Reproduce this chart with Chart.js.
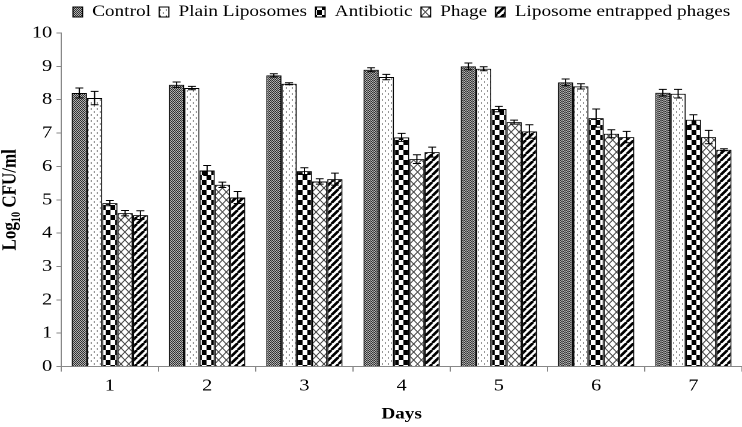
<!DOCTYPE html>
<html><head><meta charset="utf-8">
<script src="https://cdn.jsdelivr.net/npm/chart.js@4.4.0/dist/chart.umd.min.js"></script>
<style>html,body{margin:0;padding:0;background:#fff;overflow:hidden}
#c{display:block}</style>
</head><body>
<canvas id="c" width="618" height="427" style="width:742px;height:427px"></canvas>
<script>
// ---- data ----
const days = ['1', '2', '3', '4', '5', '6', '7'];
const seriesNames = ['Control', 'Plain Liposomes', 'Antibiotic', 'Phage', 'Liposome entrapped phages'];
const control    = [8.20, 8.45, 8.73, 8.90, 9.00, 8.52, 8.21];
const plain      = [8.05, 8.35, 8.48, 8.68, 8.93, 8.40, 8.18];
const antibiotic = [4.90, 5.88, 5.86, 6.87, 7.72, 7.45, 7.40];
const phage      = [4.60, 5.45, 5.55, 6.22, 7.33, 6.98, 6.88];
const lep        = [4.54, 5.07, 5.62, 6.43, 7.05, 6.88, 6.50];
const controlErr    = [0.15, 0.08, 0.05, 0.06, 0.10, 0.10, 0.10];
const plainErr      = [0.20, 0.05, 0.03, 0.08, 0.06, 0.08, 0.13];
const antibioticErr = [0.08, 0.15, 0.10, 0.12, 0.08, 0.27, 0.15];
const phageErr      = [0.08, 0.08, 0.08, 0.13, 0.06, 0.12, 0.20];
const lepErr        = [0.13, 0.18, 0.18, 0.15, 0.20, 0.17, 0.03];
const yTicks = [0, 1, 2, 3, 4, 5, 6, 7, 8, 9, 10];

// ---- patterns ----
const canvas = document.getElementById('c');
const mainCtx = canvas.getContext('2d');
function makePattern(w, h, draw, S) {
  S = S || 4;
  const c = document.createElement('canvas');
  c.width = Math.round(w * S); c.height = Math.round(h * S);
  const g = c.getContext('2d');
  g.scale(S, S);
  draw(g, w, h);
  const p = mainCtx.createPattern(c, 'repeat');
  p.setTransform(new DOMMatrix().scale(1 / S));
  return p;
}
// cells of 1 displayed pixel (1/1.2 user unit wide, 1 user unit tall)
const patControl = makePattern(5 / 3, 2, (g, w, h) => {
  g.fillStyle = '#b4b4b4'; g.fillRect(0, 0, w, h);
  g.fillStyle = '#2e2e2e'; g.fillRect(0, 0, w / 2, 1); g.fillRect(w / 2, 1, w / 2, 1);
}, 6);
const patPlain = makePattern(5, 6, (g) => {
  g.fillStyle = '#fff'; g.fillRect(0, 0, 5, 6);
  g.fillStyle = '#333'; g.fillRect(0.5, 0.5, 1, 1); g.fillRect(3, 3.5, 1, 1);
});
const patAnti = makePattern(8, 10, (g) => {
  g.fillStyle = '#fff'; g.fillRect(0, 0, 8, 10);
  g.fillStyle = '#000'; g.fillRect(0, 0, 4, 5); g.fillRect(4, 5, 4, 5);
});
const patPhage = makePattern(6.5, 8, (g, w, h) => {
  g.fillStyle = '#fff'; g.fillRect(0, 0, w, h);
  g.strokeStyle = '#444'; g.lineWidth = 0.9;
  g.beginPath();
  g.moveTo(0, 0); g.lineTo(w, h);
  g.moveTo(w, 0); g.lineTo(0, h);
  g.stroke();
});
const patLep = makePattern(6, 7, (g, w, h) => {
  g.fillStyle = '#fff'; g.fillRect(0, 0, w, h);
  g.strokeStyle = '#000'; g.lineWidth = 2.4;
  g.beginPath();
  for (let k = -1; k <= 1; k++) { g.moveTo(k * w, h); g.lineTo(k * w + w, 0); }
  g.stroke();
});

const values = [control, plain, antibiotic, phage, lep];
const errors = [controlErr, plainErr, antibioticErr, phageErr, lepErr];
const patterns = [patControl, patPlain, patAnti, patPhage, patLep];

const FONT = "'Liberation Serif', 'Times New Roman', serif";

const errorBars = {
  id: 'errorBars',
  afterDatasetsDraw(chart) {
    const ctx = chart.ctx, y = chart.scales.y;
    ctx.save();
    ctx.strokeStyle = '#000'; ctx.lineWidth = 1;
    chart.data.datasets.forEach((ds, i) => {
      const meta = chart.getDatasetMeta(i);
      meta.data.forEach((bar, j) => {
        const v = ds.data[j], e = errors[i][j];
        const yt = y.getPixelForValue(v + e), yb = y.getPixelForValue(v - e);
        const x = bar.x, hw = 3.3;
        ctx.beginPath();
        ctx.moveTo(x, yt); ctx.lineTo(x, yb);
        ctx.moveTo(x - hw, yt); ctx.lineTo(x + hw, yt);
        ctx.moveTo(x - hw, yb); ctx.lineTo(x + hw, yb);
        ctx.stroke();
      });
    });
    ctx.restore();
  }
};
const legendShift = {
  id: 'legendShift',
  afterLayout(chart) {
    const lg = chart.legend, ca = chart.chartArea;
    const dx = (ca.left + ca.right) / 2 - (lg.left + lg.right) / 2;
    lg.left += dx; lg.right += dx;
    lg.top -= 3; lg.bottom -= 3;
  }
};

new Chart(canvas, {
  type: 'bar',
  data: {
    labels: days,
    datasets: seriesNames.map((name, i) => ({
      label: name,
      data: values[i],
      backgroundColor: patterns[i],
      borderColor: '#000',
      borderWidth: 1,
      categoryPercentage: 0.785,
      barPercentage: 1.0
    }))
  },
  options: {
    responsive: false,
    animation: false,
    devicePixelRatio: 2,
    layout: { padding: { left: 0, right: 0, top: 0, bottom: 0 } },
    plugins: {
      legend: {
        position: 'top',
        labels: {
          font: { family: FONT, size: 16 },
          color: '#000',
          boxWidth: 8, boxHeight: 10, padding: 7
        }
      },
      tooltip: { enabled: false }
    },
    scales: {
      x: {
        grid: { drawOnChartArea: false, drawTicks: true, tickLength: 5, color: '#888' },
        border: { display: true, color: '#888', width: 1 },
        ticks: { font: { family: FONT, size: 17 }, color: '#000', padding: 4 },
        title: { display: true, text: 'Days', color: '#000',
          font: { family: FONT, size: 16, weight: 'bold' }, padding: { top: 4.8, bottom: 3 } }
      },
      y: {
        min: 0, max: 10,
        afterBuildTicks(scale) { scale.ticks = yTicks.map(v => ({ value: v })); },
        grid: { drawOnChartArea: false, drawTicks: true, tickLength: 4, color: '#888' },
        border: { display: true, color: '#888', width: 1 },
        ticks: { font: { family: FONT, size: 17 }, color: '#000', padding: 3.5 },
        title: { display: true, text: 'Log₁₀ CFU/ml', color: '#000',
          font: { family: FONT, size: 17, weight: 'bold', lineHeight: 1 }, padding: { top: 0, bottom: 6 } }
      }
    }
  },
  plugins: [errorBars, legendShift]
});
</script>
</body></html>
